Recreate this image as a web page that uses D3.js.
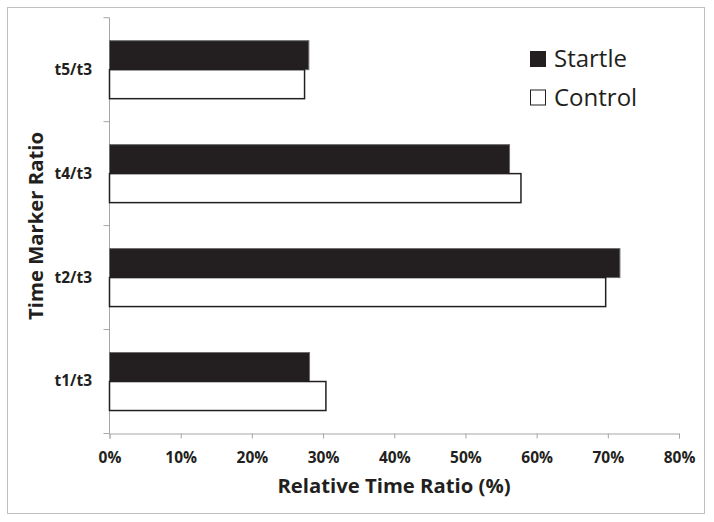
<!DOCTYPE html>
<html><head><meta charset="utf-8">
<script src="https://cdn.jsdelivr.net/npm/d3@7"></script>
<style>body{margin:0;background:#fff}svg{display:block}</style>
</head><body>
<svg id="c" width="714" height="522"></svg>
<script>
const categories = ["t5/t3", "t4/t3", "t2/t3", "t1/t3"];
const startle = [28.0, 56.2, 71.7, 28.1];
const control = [27.4, 57.8, 69.7, 30.4];
const xTicks = [0, 10, 20, 30, 40, 50, 60, 70, 80];
const seriesNames = ["Startle", "Control"];

const svg = d3.select("#c");
const font = "'Open Sans', sans-serif";
svg.append("rect").attr("x",7.5).attr("y",7.5).attr("width",697).attr("height",506)
  .attr("fill","#fff").attr("stroke","#c0c0c0").attr("stroke-width",1);

const x = d3.scaleLinear().domain([0,80]).range([109.5,679]);
const y = d3.scaleBand().domain(categories).range([17.7,433.5]).paddingInner(0.442).paddingOuter(0.221);
const sub = d3.scaleBand().domain(seriesNames).range([0,y.bandwidth()]);

const axisColor = "#a6a6a6";
const xg = svg.append("g").attr("transform",`translate(0,${433.5})`)
  .call(d3.axisBottom(x).tickValues(xTicks).tickSize(5).tickFormat(d=>d+"%"));
xg.select(".domain").attr("stroke",axisColor);
xg.selectAll(".tick line").attr("stroke",axisColor);
xg.selectAll("text").attr("font-family",font).attr("font-weight","bold").attr("font-size","15.5px")
  .attr("fill","#231f20").attr("dy",0).attr("y",29.5);

const yg = svg.append("g").attr("transform",`translate(${109.5},0)`)
  .call(d3.axisLeft(y).tickSize(0).tickPadding(17.5));
yg.select(".domain").attr("stroke",axisColor).attr("d",`M0,${17.7}V${433.5}`);
yg.selectAll("text").attr("font-family",font).attr("font-weight","bold").attr("font-size","15.5px").attr("fill","#231f20");
const bounds = categories.map(c=>y(c)-y.step()*y.paddingInner()/2).concat([433.5]);
yg.selectAll(".bt").data(bounds).enter().append("line").attr("class","bt")
  .attr("x1",-6).attr("x2",0).attr("y1",d=>d).attr("y2",d=>d).attr("stroke",axisColor);

const rows = categories.map((c,i)=>({c, s:startle[i], k:control[i]}));
svg.append("g").selectAll("rect").data(rows).enter().append("rect")
  .attr("x",x(0)).attr("y",d=>y(d.c)+sub("Startle"))
  .attr("width",d=>x(d.s)-x(0)).attr("height",sub.bandwidth())
  .attr("fill","#231f20").attr("stroke","#6d6d6d").attr("stroke-width",1);
svg.append("g").selectAll("rect").data(rows).enter().append("rect")
  .attr("x",x(0)).attr("y",d=>y(d.c)+sub("Control"))
  .attr("width",d=>x(d.k)-x(0)).attr("height",sub.bandwidth())
  .attr("fill","#fff").attr("stroke","#231f20").attr("stroke-width",1.5);

svg.append("text").attr("x",394).attr("y",493).attr("text-anchor","middle")
  .attr("font-family",font).attr("font-weight","bold").attr("font-size","20.3px").attr("fill","#231f20")
  .text("Relative Time Ratio (%)");
svg.append("text").attr("transform","translate(43,226) rotate(-90)").attr("text-anchor","middle")
  .attr("font-family",font).attr("font-weight","bold").attr("font-size","20.3px").attr("fill","#231f20")
  .text("Time Marker Ratio");

const leg = svg.append("g");
seriesNames.forEach((n,i)=>{
  const yy = 51 + i*38.5;
  leg.append("rect").attr("x",530.5).attr("y",yy+0.5).attr("width",15).attr("height",15)
    .attr("fill", i===0?"#231f20":"#fff").attr("stroke","#231f20").attr("stroke-width",1);
  leg.append("text").attr("x",554).attr("y",yy+16).attr("font-family",font)
    .attr("font-size","24px").attr("fill","#231f20").text(n);
});
</script>
</body></html>
